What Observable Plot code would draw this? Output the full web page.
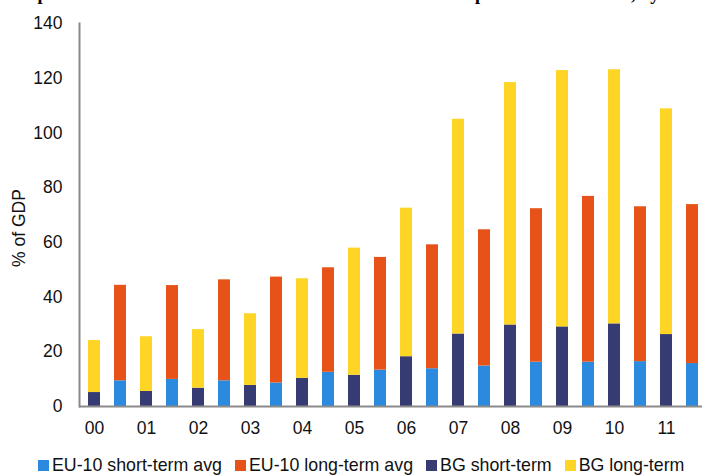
<!DOCTYPE html>
<html>
<head>
<meta charset="utf-8">
<script src="https://cdn.jsdelivr.net/npm/d3@7"></script>
<script src="https://cdn.jsdelivr.net/npm/@observablehq/plot@0.6"></script>
<style>
  html, body { margin: 0; padding: 0; background: #fff; overflow: hidden; }
  body { position: relative; width: 702px; height: 475px; font-family: "Liberation Sans", Arial, sans-serif; }
  #title { position: absolute; left: 0; top: -14.7px; white-space: nowrap; font-family: "Liberation Serif", "Times New Roman", serif; font-weight: bold; font-size: 18.2px; line-height: 18.2px; color: #000; }
  #chart { position: absolute; left: 0; top: 0; }
  #legend { position: absolute; left: 38px; top: 457px; display: flex; align-items: center; gap: 13px; font-size: 17.8px; line-height: 17.8px; color: #111; white-space: nowrap; }
  .item { display: flex; align-items: center; }
  .sw { width: 11px; height: 11px; margin-right: 3px; display: inline-block; }
</style>
</head>
<body>
<div id="title">Composition of total external debt: BG relative to EU-10 sample of ten economies, by maturity</div>
<div id="chart"></div>
<div id="legend"></div>
<script>
const years = ["00","01","02","03","04","05","06","07","08","09","10","11"];
const bgShort = [5.1, 5.5, 6.7, 7.7, 10.3, 11.4, 18.2, 26.5, 29.8, 29.1, 30.2, 26.3];
const bgLong  = [19.0, 20.0, 21.4, 26.2, 36.4, 46.5, 54.3, 78.5, 88.6, 93.7, 92.9, 82.5];
const euShort = [9.4, 9.9, 9.4, 8.6, 12.5, 13.3, 13.8, 14.8, 16.2, 16.2, 16.4, 15.7];
const euLong  = [34.9, 34.3, 36.9, 38.7, 38.2, 41.2, 45.3, 49.8, 56.1, 60.6, 56.6, 58.1];
const seriesNames = ["EU-10 short-term avg", "EU-10 long-term avg", "BG short-term", "BG long-term"];
const seriesColors = ["#2b8ade", "#e75218", "#363b74", "#fed524"];
const yTicks = [0, 20, 40, 60, 80, 100, 120, 140];
const yLabel = "% of GDP";

const rows = [];
years.forEach((yr, i) => {
  rows.push({bar: yr + "BG", series: "BG short-term", value: bgShort[i]});
  rows.push({bar: yr + "BG", series: "BG long-term", value: bgLong[i]});
  rows.push({bar: yr + "EU", series: "EU-10 short-term avg", value: euShort[i]});
  rows.push({bar: yr + "EU", series: "EU-10 long-term avg", value: euLong[i]});
});
const barKeys = years.flatMap(yr => [yr + "BG", yr + "EU"]);

const chart = Plot.plot({
  width: 702,
  height: 445,
  marginTop: 23,
  marginBottom: 39,
  marginLeft: 79,
  marginRight: 0,
  style: {fontFamily: "'Liberation Sans', Arial, sans-serif", fontSize: "17.5px", color: "#111", background: "transparent"},
  x: {type: "band", domain: barKeys, range: [79, 706], paddingInner: 0.54, paddingOuter: 0.27, axis: null},
  y: {domain: [0, 140], axis: null},
  color: {domain: seriesNames, range: seriesColors},
  marks: [
    Plot.barY(rows, {x: "bar", y: "value", fill: "series"}),
    Plot.ruleY([0], {stroke: "#8a8a8a", strokeWidth: 2}),
    Plot.frame({anchor: "left", stroke: "#8a8a8a", strokeWidth: 2}),
    Plot.axisY({ticks: yTicks, tickSize: 0, tickPadding: 17, label: null}),
    Plot.axisX({ticks: years.map(yr => yr + "BG"), tickFormat: d => d.slice(0, 2), tickSize: 0, tickPadding: 15, label: null}),
    Plot.text([yLabel], {text: d => d, frameAnchor: "left", textAnchor: "middle", rotate: -90, dx: -60, dy: 13})
  ]
});
document.getElementById("chart").appendChild(chart);

const legend = document.getElementById("legend");
seriesNames.forEach((name, i) => {
  const item = document.createElement("div");
  item.className = "item";
  const sw = document.createElement("span");
  sw.className = "sw";
  sw.style.background = seriesColors[i];
  const label = document.createElement("span");
  label.textContent = name;
  item.appendChild(sw);
  item.appendChild(label);
  legend.appendChild(item);
});
</script>
</body>
</html>
